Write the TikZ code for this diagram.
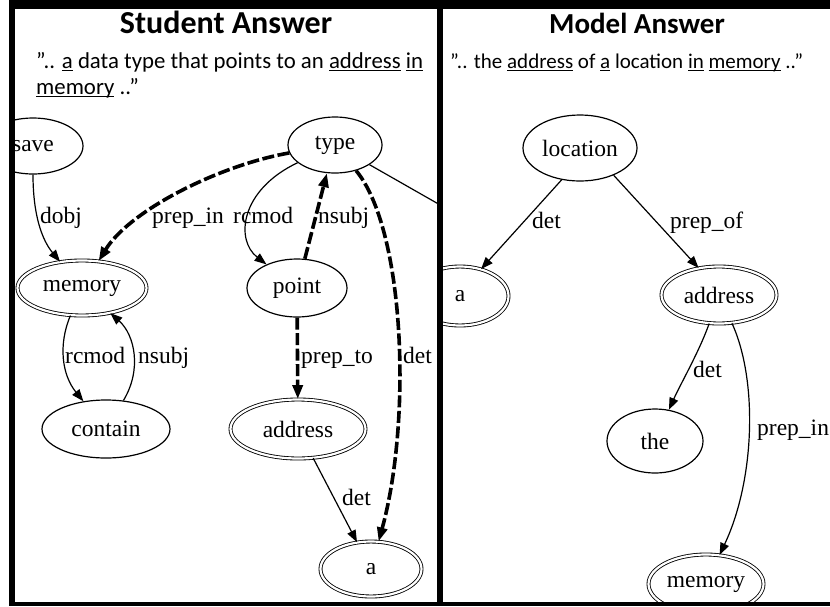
\documentclass[tikz,border=0pt]{standalone}
\usepackage{fontspec}
\setmainfont{Liberation Serif}
\newfontfamily\carlito{Carlito}
\usetikzlibrary{arrows.meta,shapes.geometric}
\newcommand\myul[1]{\setbox0\hbox{#1}\rlap{\rule[-3.4pt]{\wd0}{1.4pt}}\box0\relax}
\begin{document}
\begin{tikzpicture}[x=1pt,y=-1pt,
  gfont/.style={font=\fontsize{23.5}{26}\selectfont},
  nd/.style={ellipse, draw, line width=1.2pt, inner sep=0pt, gfont},
  dnd/.style={ellipse, draw, double, double distance=2.2pt, line width=0.85pt, inner sep=0pt, gfont},
  ed/.style={draw, line width=1.2pt, -{Triangle[length=12pt,width=9pt]}},
  de/.style={draw, line width=3.6pt, dash pattern=on 12pt off 3.5pt, -{Triangle[length=14pt,width=10pt]}},
  lb/.style={gfont, anchor=base west, inner sep=0pt},
  ttl/.style={font=\carlito\bfseries\fontsize{32}{35}\selectfont, anchor=base, inner sep=0pt},
  ttr/.style={font=\carlito\bfseries\fontsize{29}{32}\selectfont, anchor=base, inner sep=0pt},
  subl/.style={font=\carlito\fontsize{22.8}{25}\selectfont, anchor=base west, inner sep=0pt},
  subr/.style={font=\carlito\fontsize{21}{24}\selectfont, anchor=base west, inner sep=0pt}]
\useasboundingbox (0,0) rectangle (830,606);
\fill[white] (0,0) rectangle (830,606);
% ---------- left panel ----------
\begin{scope}
\clip (15,9) rectangle (437,602);
\node[ttl] (t1) at (226,33) {Student Answer};
\node[subl] (s1a) at (36,68) {”.. \myul{a} data type that points to an \myul{address} \myul{in}};
\node[subl] (s1b) at (36,94) {\myul{memory} ..”};
\node[nd, minimum width=100pt, minimum height=56pt] (save) at (33,146) {save};
\node[nd, minimum width=94pt, minimum height=56pt] (type) at (335,145) {type};
\node[dnd, minimum width=129pt, minimum height=55pt] (memL) at (82,288) {memory};
\node[nd, minimum width=100pt, minimum height=58pt] (point) at (297,288) {point};
\node[nd, minimum width=128pt, minimum height=58pt] (contain) at (106,429) {contain};
\node[dnd, minimum width=135pt, minimum height=59pt] (addrL) at (298,429) {address};
\node[dnd, minimum width=101pt, minimum height=55pt] (aL) at (371,569) {a};
\coordinate (offR) at (470,222);
\draw[ed] (save) .. controls (33,215) and (42,240) .. (memL);
\draw[de] (type) .. controls (220,165) and (130,210) .. (memL);
\draw[ed] (type) .. controls (240,190) and (235,240) .. (point);
\draw[de] (point.75) -- (type.-106);
\draw[de] (type) .. controls (405,230) and (412,420) .. (aL);
\draw[line width=1.2pt] (type) -- (offR);
\draw[ed] (memL) .. controls (58,345) and (62,375) .. (contain);
\draw[ed] (contain) .. controls (142,370) and (135,335) .. (memL);
\draw[de] (point) -- (addrL);
\draw[ed] (addrL) -- (aL);
\node[lb] (l1) at (40,223) {dobj};
\node[lb] (l2) at (152,223) {prep\_in};
\node[lb] (l3) at (233,223) {rcmod};
\node[lb] (l4) at (318,223) {nsubj};
\node[lb] (l5) at (65,363) {rcmod};
\node[lb] (l6) at (138,363) {nsubj};
\node[lb] (l7) at (301,363) {prep\_to};
\node[lb] (l8) at (403,363) {det};
\node[lb] (l9) at (342,505) {det};
\end{scope}
% ---------- right panel ----------
\begin{scope}
\clip (443,9) rectangle (830,602);
\node[ttr] (t2) at (637,33) {Model Answer};
\node[subr] (s2) at (450,68) {”.. the \myul{address} of \myul{a} location \myul{in} \myul{memory} ..”};
\node[nd, minimum width=114pt, minimum height=66pt] (loc) at (580,148) {location};
\node[dnd, minimum width=97pt, minimum height=59pt] (aR) at (460,296) {a};
\node[dnd, minimum width=115pt, minimum height=57pt] (addrR) at (719,295) {address};
\node[nd, minimum width=96pt, minimum height=64pt] (the) at (655,441) {the};
\node[dnd, minimum width=115pt, minimum height=59pt] (memR) at (706,584) {memory};
\draw[ed] (loc.-120) -- (aR.52);
\draw[ed] (loc.-39) -- (addrR.127);
\draw[ed] (addrR) .. controls (700,350) and (680,385) .. (the);
\draw[ed] (addrR) .. controls (758,380) and (755,480) .. (memR.65);
\node[lb] (r1) at (532,228) {det};
\node[lb] (r2) at (670,228) {prep\_of};
\node[lb] (r3) at (693,377) {det};
\node[lb] (r4) at (757,435) {prep\_in};
\end{scope}
% ---------- frame ----------
\fill[black] (9,0) rectangle (830,9);
\fill[black] (9,0) rectangle (15,606);
\fill[black] (437,0) rectangle (443,606);
\fill[black] (9,602) rectangle (830,606);
\end{tikzpicture}
\end{document}
